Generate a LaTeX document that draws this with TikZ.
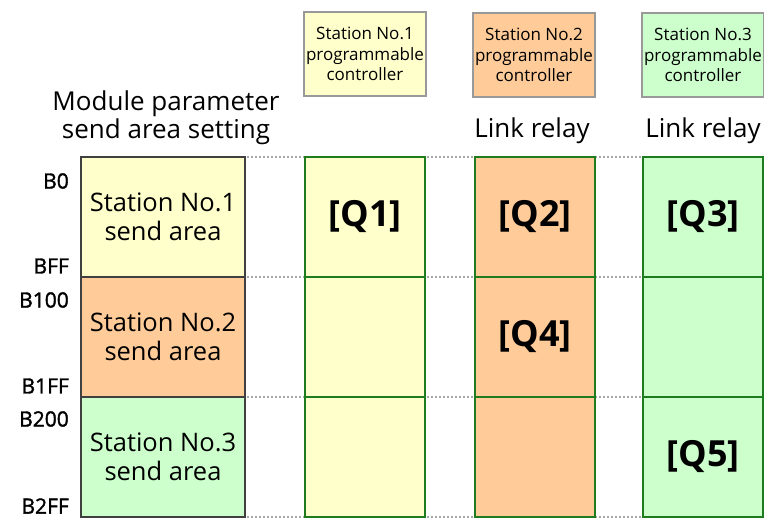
\documentclass[tikz,border=0pt]{standalone}
\usepackage{fontspec}
\setmainfont{Open Sans}
\newfontfamily\addrfont{Open Sans}[FakeBold=1.5]
\definecolor{cyel}{HTML}{FFFFCC}
\definecolor{cora}{HTML}{FFCC99}
\definecolor{cgrn}{HTML}{CCFFCC}
\definecolor{gborder}{HTML}{1E7B1E}
\definecolor{dgray}{HTML}{404040}
\begin{document}
\begin{tikzpicture}[x=1pt,y=-1pt,
  area/.style={draw=dgray, line width=2pt, minimum width=164, minimum height=120, align=center, inner sep=0, font=\fontsize{25.5}{29}\selectfont},
  relay/.style={draw=gborder, line width=2pt, minimum width=120, minimum height=120, inner sep=0, font=\bfseries\fontsize{36}{40}\selectfont},
  plc/.style={draw=gray!80, line width=2pt, minimum width=122, minimum height=84, align=center, inner sep=0, font=\fontsize{17}{20.5}\selectfont},
  addr/.style={anchor=east, inner sep=0, font=\addrfont\fontsize{21}{22}\selectfont},
  title/.style={align=center, inner sep=0, font=\fontsize{26}{28.5}\selectfont},
  dots/.style={draw=gray!70, dotted, line width=2pt}]
\useasboundingbox (0,0) rectangle (764,518);
% coordinates for dotted guide lines
\coordinate (e0) at (764,157);
\coordinate (e1) at (764,277);
\coordinate (e2) at (764,397);
\coordinate (e3) at (764,517);
\coordinate (s0) at (247,157);
\coordinate (s1) at (247,277);
\coordinate (s2) at (247,397);
\coordinate (s3) at (247,517);
\draw[dots] (s0) -- (e0);
\draw[dots] (s1) -- (e1);
\draw[dots] (s2) -- (e2);
\draw[dots] (s3) -- (e3);
% left send areas
\node[area, fill=cyel] (a1) at (163,217) {Station No.1\\send area};
\node[area, fill=cora] (a2) at (163,337) {Station No.2\\send area};
\node[area, fill=cgrn] (a3) at (163,457) {Station No.3\\send area};
% address labels
\node[addr] (b0) at (69,181) {B0};
\node[addr] (bff) at (69,266) {BFF};
\node[addr] (b100) at (69,300) {B100};
\node[addr] (b1ff) at (69,386) {B1FF};
\node[addr] (b200) at (69,419) {B200};
\node[addr] (b2ff) at (69,506) {B2FF};
% titles
\node[title] (mp) at (166,118) {Module parameter\\send area setting};
\node[title] (lr2) at (532,131) {Link relay};
\node[title] (lr3) at (703,131) {Link relay};
% PLC boxes
\node[plc, fill=cyel] (p1) at (365,54) {Station No.1\\programmable\\controller};
\node[plc, fill=cora] (p2) at (534,55) {Station No.2\\programmable\\controller};
\node[plc, fill=cgrn] (p3) at (703,55) {Station No.3\\programmable\\controller};
% link relay columns
\node[relay, fill=cyel] (c11) at (365,217) {[Q1]};
\node[relay, fill=cyel] (c12) at (365,337) {};
\node[relay, fill=cyel] (c13) at (365,457) {};
\node[relay, fill=cora] (c21) at (535,217) {[Q2]};
\node[relay, fill=cora] (c22) at (535,337) {[Q4]};
\node[relay, fill=cora] (c23) at (535,457) {};
\node[relay, fill=cgrn] (c31) at (703,217) {[Q3]};
\node[relay, fill=cgrn] (c32) at (703,337) {};
\node[relay, fill=cgrn] (c33) at (703,457) {[Q5]};
\end{tikzpicture}
\end{document}
